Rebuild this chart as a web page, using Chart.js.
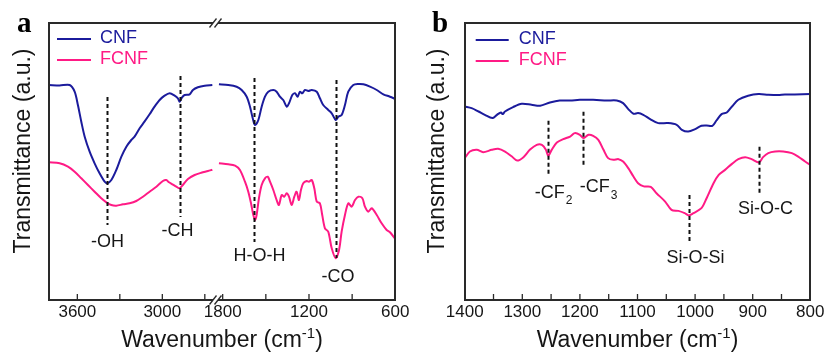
<!DOCTYPE html>
<html>
<head>
<meta charset="utf-8">
<title>FTIR spectra of CNF and FCNF</title>
<script src="https://cdn.jsdelivr.net/npm/chart.js@4.4.1/dist/chart.umd.min.js"></script>
<style>
  html, body { margin: 0; padding: 0; background: #ffffff; }
  #wrap { position: relative; width: 828px; height: 355px; overflow: hidden; }
  canvas { position: absolute; top: 0; }
</style>
</head>
<body>
<div id="wrap">
  <canvas id="aHigh" width="414" height="355" style="left:0px"></canvas>
  <canvas id="aLow" width="216" height="355" style="left:200px"></canvas>
  <canvas id="panelB" width="414" height="355" style="left:414px"></canvas>
</div>
<script>
// ---- Spectra: wavenumber (cm-1) and transmittance (a.u.) ----

// Panel a, 3800-2600 cm-1 window
const A_HIGH_WN_CNF = [3800, 3725, 3654, 3619, 3596, 3572, 3548, 3513, 3478, 3443, 3407, 3388, 3360, 3325, 3289, 3254, 3219, 3196, 3160, 3126, 3090, 3055, 3019, 2984, 2948, 2913, 2890, 2878, 2862, 2843, 2807, 2784, 2749, 2701, 2647];
const A_HIGH_T_CNF = [215, 214.5, 215, 208.3, 195, 178.3, 163.3, 148.3, 136.7, 126.7, 118.3, 116.7, 120, 130, 143.3, 153.3, 160, 163.3, 171.7, 178.3, 185.7, 193.3, 200, 204.3, 206.7, 204.3, 201.7, 198.3, 202.3, 205, 205.7, 210, 212.7, 214.3, 215];
const A_HIGH_WN_FCNF = [3800, 3725, 3666, 3619, 3572, 3525, 3478, 3431, 3395, 3360, 3325, 3278, 3231, 3184, 3137, 3090, 3042, 2996, 2972, 2953, 2929, 2901, 2878, 2855, 2819, 2772, 2725, 2678, 2647];
const A_HIGH_T_FCNF = [137.7, 136.7, 133.3, 128.3, 121.7, 115, 108.3, 101.7, 97.7, 95, 94.3, 95.7, 96.7, 99, 103.3, 108.3, 113.3, 119, 120, 117.7, 115.7, 113.3, 111.7, 115, 121, 125, 127.3, 129, 130.3];

// Panel a, 1800-600 cm-1 window
const A_LOW_WN_CNF = [1826, 1761, 1703, 1668, 1633, 1610, 1591, 1575, 1552, 1529, 1506, 1483, 1448, 1425, 1402, 1379, 1355, 1339, 1316, 1297, 1279, 1263, 1247, 1228, 1205, 1181, 1146, 1124, 1101, 1066, 1042, 1014, 996, 973, 950, 927, 892, 857, 822, 776, 729, 683, 637, 600];
const A_LOW_T_CNF = [215.7, 215, 213.3, 210, 203.3, 193.3, 181.7, 175, 180, 193.3, 203.3, 208.3, 210, 208.3, 203.3, 200, 193.3, 196.7, 205, 206.7, 203.3, 208.3, 206.7, 210, 209, 210, 208.3, 201.7, 195, 190, 186.7, 180, 183.3, 185, 195, 208.3, 215, 216, 215.7, 213.3, 210, 205.7, 203.3, 201];
const A_LOW_WN_FCNF = [1826, 1761, 1714, 1680, 1645, 1622, 1603, 1587, 1575, 1564, 1548, 1529, 1506, 1487, 1471, 1448, 1425, 1409, 1390, 1372, 1355, 1339, 1320, 1302, 1286, 1270, 1256, 1240, 1216, 1200, 1181, 1163, 1146, 1124, 1108, 1089, 1066, 1042, 1014, 991, 973, 950, 927, 903, 880, 857, 829, 811, 788, 764, 729, 695, 660, 637, 600];
const A_LOW_T_FCNF = [136.7, 135.7, 134.3, 130, 118.3, 108.3, 96.7, 85, 80, 85, 101.7, 115, 121.7, 123.3, 118.3, 110, 100, 95, 105, 103.3, 106.7, 103.3, 95, 103.3, 108.3, 100, 110, 116.7, 119, 118.3, 120, 111.7, 98.3, 96.7, 85, 71.7, 68.3, 51.7, 41.7, 50, 68.3, 85, 96.7, 93.3, 100, 103.3, 101.7, 93.3, 88.3, 91.7, 85, 76.7, 70, 67.7, 61];

// Panel b, 1400-800 cm-1
const B_WN_CNF = [1400, 1388, 1376, 1365, 1352, 1344, 1337, 1334, 1330, 1316, 1301, 1284, 1269, 1252, 1235, 1217, 1200, 1177, 1153, 1136, 1125, 1116, 1107, 1099, 1090, 1078, 1064, 1047, 1032, 1023, 1012, 1000, 989, 980, 970, 963, 954, 945, 936, 925, 908, 890, 873, 856, 844, 827, 800];
const B_T_CNF = [193.3, 191.7, 188.3, 185, 181.7, 185, 187.3, 185.7, 188.3, 192.7, 196, 195, 194, 197.3, 199.3, 199.3, 200, 200, 199.3, 199.3, 196.7, 190.7, 186, 186.7, 185, 180.7, 176.7, 176.7, 175, 170, 168.3, 170.7, 174, 174.3, 174, 179.3, 185.7, 187.3, 193.3, 200, 204, 205.7, 205, 204.7, 205.3, 205.3, 205.7];
const B_WN_FCNF = [1400, 1391, 1379, 1368, 1353, 1342, 1330, 1318, 1309, 1298, 1287, 1275, 1266, 1259, 1255, 1249, 1240, 1229, 1217, 1209, 1200, 1194, 1185, 1177, 1168, 1159, 1151, 1142, 1133, 1125, 1116, 1107, 1099, 1089, 1077, 1067, 1052, 1041, 1029, 1018, 1011, 1003, 989, 980, 968, 959, 948, 936, 925, 913, 902, 889, 882, 873, 861, 847, 832, 821, 809, 800];
const B_T_FCNF = [141.7, 148.3, 150, 147.7, 150, 151, 148.3, 143.3, 139.3, 142.7, 150, 155, 155, 150, 144, 150, 157.3, 160.7, 163.3, 166.7, 165, 161.7, 165, 164, 160, 150, 141.7, 140, 140.7, 138.3, 131.7, 123.3, 116.7, 113.5, 113, 106.7, 98.3, 90, 89, 86.7, 84.5, 86.7, 91.7, 101.7, 116.7, 125, 130, 136, 140.7, 142.7, 140.7, 137.3, 142.7, 146.7, 148.3, 148.3, 146.7, 143.3, 138.3, 135];

// Axis ticks (all drawn as tick marks; only the label lists get numbers)
const A_HIGH_TICKS = [3600, 3300, 3000, 2700];
const A_HIGH_TICK_LABELS = [3600, 3000];
const A_LOW_TICKS = [1800, 1500, 1200, 900, 600];
const A_LOW_TICK_LABELS = [1800, 1200, 600];
const B_TICKS = [1400, 1350, 1300, 1250, 1200, 1150, 1100, 1050, 1000, 950, 900, 850, 800];
const B_TICK_LABELS = [1400, 1300, 1200, 1100, 1000, 900, 800];

// Assigned bands (wavenumber and group); "_" starts a subscript
const A_HIGH_BAND_WN = [3393, 2878];
const A_HIGH_BAND_NAMES = ['-OH', '-CH'];
const A_LOW_BAND_WN = [1580, 1012];
const A_LOW_BAND_NAMES = ['H-O-H', '-CO'];
const B_BAND_WN = [1255, 1194, 1011, 889];
const B_BAND_NAMES = ['-CF_2', '-CF_3', 'Si-O-Si', 'Si-O-C'];

const SERIES_NAMES = ['CNF', 'FCNF'];

// ---- Styling / placement of the band markers (in axis units) ----
const A_HIGH_MARK_STYLE = [
  { top: 203, bottom: 75, labelAt: 58, dx: 0 },
  { top: 224, bottom: 83, labelAt: 69, dx: -3 }
];
const A_LOW_MARK_STYLE = [
  { top: 222, bottom: 58, labelAt: 44, dx: 5 },
  { top: 220, bottom: 42, labelAt: 23, dx: 1.5 }
];
const B_MARK_STYLE = [
  { top: 179, bottom: 123, labelAt: 107, dx: 5 },
  { top: 188, bottom: 132, labelAt: 112.5, dx: 15 },
  { top: 105, bottom: 57, labelAt: 42, dx: 6 },
  { top: 153, bottom: 107, labelAt: 91, dx: 6 }
];

const COLORS = ['#1b1b9c', '#ff1a85'];
const FONT = "'Liberation Sans', Arial, sans-serif";
const INK = '#161616';
const FRAME = '#2a2a2a';

function points(wn, t) {
  return wn.map((x, i) => ({ x: x, y: t[i] }));
}

function datasets(cnfWn, cnfT, fcnfWn, fcnfT) {
  return [
    { label: SERIES_NAMES[0], data: points(cnfWn, cnfT) },
    { label: SERIES_NAMES[1], data: points(fcnfWn, fcnfT) }
  ].map((d, i) => Object.assign(d, {
    borderColor: COLORS[i], borderWidth: 2, pointRadius: 0, tension: 0.3, fill: false
  }));
}

// Text with an optional subscript part, centred on x
function drawLabel(ctx, text, x, y) {
  const parts = text.split('_');
  ctx.font = '18px ' + FONT;
  const w0 = ctx.measureText(parts[0]).width;
  let w1 = 0;
  if (parts[1]) { ctx.font = '12px ' + FONT; w1 = ctx.measureText(parts[1]).width + 1; }
  const left = x - (w0 + w1) / 2;
  ctx.textAlign = 'left';
  ctx.textBaseline = 'middle';
  ctx.font = '18px ' + FONT;
  ctx.fillText(parts[0], left, y);
  if (parts[1]) {
    ctx.font = '12px ' + FONT;
    ctx.fillText(parts[1], left + w0 + 1, y + 8);
  }
}

// Band markers over the spectra; frame, inward ticks and axis break on top
const framePlugin = {
  id: 'frame',
  afterDatasetsDraw(chart, args, o) {
    const ctx = chart.ctx;
    const xs = chart.scales.x, ys = chart.scales.y;
    ctx.save();
    (o.bandWn || []).forEach((wn, i) => {
      const st = o.bandStyle[i];
      const x = Math.round(xs.getPixelForValue(wn)) + 0.5;
      ctx.strokeStyle = '#111';
      ctx.lineWidth = 2;
      ctx.setLineDash([4, 3]);
      ctx.beginPath();
      ctx.moveTo(x, ys.getPixelForValue(st.top));
      ctx.lineTo(x, ys.getPixelForValue(st.bottom));
      ctx.stroke();
      ctx.setLineDash([]);
      ctx.fillStyle = INK;
      drawLabel(ctx, o.bandNames[i], x + st.dx, ys.getPixelForValue(st.labelAt));
    });
    ctx.restore();
  },
  afterDraw(chart, args, o) {
    const ctx = chart.ctx, a = chart.chartArea;
    const xs = chart.scales.x;
    const top = Math.round(a.top), bottom = Math.round(a.bottom);
    const left = Math.round(a.left), right = Math.round(a.right);
    ctx.save();
    ctx.setLineDash([]);
    ctx.fillStyle = FRAME;
    // frame edges as filled 2px bars
    ctx.fillRect(left - (o.left ? 1 : 0), top - 1, right - left + (o.left ? 1 : 0) + (o.right ? 1 : 0), 2);
    ctx.fillRect(left - (o.left ? 1 : 0), bottom - 1, right - left + (o.left ? 1 : 0) + (o.right ? 1 : 0), 2);
    if (o.left) ctx.fillRect(left - 1, top - 1, 2, bottom - top + 2);
    if (o.right) ctx.fillRect(right - 1, top - 1, 2, bottom - top + 2);

    // inward ticks on the wavenumber axis
    ctx.strokeStyle = FRAME;
    ctx.lineWidth = 1.3;
    ctx.beginPath();
    xs.ticks.forEach(t => {
      const x = xs.getPixelForValue(t.value);
      ctx.moveTo(x, bottom);
      ctx.lineTo(x, bottom - 6);
    });
    ctx.stroke();

    // axis break "//" on the top and bottom edges
    if (o.breakAt) {
      const cx = a.left - 2;
      [top, bottom].forEach(y => {
        ctx.fillStyle = '#ffffff';
        ctx.fillRect(cx - 2.5, y - 1.5, 5, 3);
        ctx.strokeStyle = FRAME;
        ctx.lineWidth = 1.3;
        [-2.5, 2.5].forEach(d => {
          ctx.beginPath();
          ctx.moveTo(cx + d - 3.5, y + 4.5);
          ctx.lineTo(cx + d + 3.5, y - 4.5);
          ctx.stroke();
        });
      });
    }
    ctx.restore();
  }
};

// Panel letter, legend and axis titles
const decorPlugin = {
  id: 'decor',
  afterDraw(chart, args, o) {
    if (!o.show) return;
    const ctx = chart.ctx, a = chart.chartArea;
    ctx.save();

    // panel letter
    ctx.fillStyle = '#000';
    ctx.font = 'bold 29px "Liberation Serif", "Times New Roman", serif';
    ctx.textAlign = 'left';
    ctx.textBaseline = 'alphabetic';
    ctx.fillText(o.letter, o.letterX, 32);

    // legend
    chart.data.datasets.forEach((ds, i) => {
      const y = o.legendRows[i];
      ctx.strokeStyle = ds.borderColor;
      ctx.lineWidth = 2;
      ctx.beginPath();
      ctx.moveTo(a.left + o.legendLine[0], y);
      ctx.lineTo(a.left + o.legendLine[1], y);
      ctx.stroke();
      ctx.fillStyle = ds.borderColor;
      ctx.font = '18px ' + FONT;
      ctx.textBaseline = 'middle';
      ctx.fillText(ds.label, a.left + o.legendText, y - 1);
    });

    // y title
    ctx.fillStyle = INK;
    ctx.save();
    ctx.translate(o.yTitleX, 151);
    ctx.rotate(-Math.PI / 2);
    ctx.font = '23px ' + FONT;
    ctx.textAlign = 'center';
    ctx.textBaseline = 'middle';
    ctx.fillText('Transmittance (a.u.)', 0, 0);
    ctx.restore();

    // x title with superscript
    const cx = o.xTitleCenter !== undefined ? o.xTitleCenter : (a.left + a.right) / 2;
    const baseY = 347;
    const p1 = 'Wavenumber (cm', sup = '-1', p2 = ')';
    ctx.font = '23px ' + FONT;
    const w1 = ctx.measureText(p1).width, w3 = ctx.measureText(p2).width;
    ctx.font = '15px ' + FONT;
    const w2 = ctx.measureText(sup).width;
    let x = cx - (w1 + w2 + w3) / 2;
    ctx.textAlign = 'left';
    ctx.textBaseline = 'alphabetic';
    ctx.font = '23px ' + FONT;
    ctx.fillText(p1, x, baseY); x += w1;
    ctx.font = '15px ' + FONT;
    ctx.fillText(sup, x, baseY - 9); x += w2;
    ctx.font = '23px ' + FONT;
    ctx.fillText(p2, x, baseY);
    ctx.restore();
  }
};

function makeChart(id, cfg) {
  return new Chart(document.getElementById(id), {
    type: 'line',
    data: { datasets: cfg.datasets },
    plugins: [framePlugin, decorPlugin],
    options: {
      responsive: false,
      animation: false,
      events: [],
      layout: { padding: { left: cfg.pad[0], right: cfg.pad[1], top: cfg.pad[2], bottom: 0 } },
      plugins: {
        legend: { display: false },
        tooltip: { enabled: false },
        frame: cfg.frame,
        decor: cfg.decor || { show: false }
      },
      scales: {
        x: {
          type: 'linear',
          reverse: true,
          min: cfg.range[0],
          max: cfg.range[1],
          afterBuildTicks: s => { s.ticks = cfg.ticks.map(v => ({ value: v })); },
          afterFit: s => { s.height = 55; },
          grid: { display: false, drawTicks: false },
          border: { display: false },
          ticks: {
            autoSkip: false,
            maxRotation: 0,
            padding: 2,
            color: INK,
            font: { family: FONT, size: 17 },
            callback: v => (cfg.labels.includes(v) ? String(v) : '')
          }
        },
        y: { display: false, min: 0, max: 277 }
      }
    }
  });
}

makeChart('aHigh', {
  datasets: datasets(A_HIGH_WN_CNF, A_HIGH_T_CNF, A_HIGH_WN_FCNF, A_HIGH_T_FCNF),
  range: [2614, 3800],
  ticks: A_HIGH_TICKS,
  labels: A_HIGH_TICK_LABELS,
  pad: [49, 197, 23],
  frame: { left: true, right: false, bandWn: A_HIGH_BAND_WN, bandNames: A_HIGH_BAND_NAMES, bandStyle: A_HIGH_MARK_STYLE },
  decor: { show: true, letter: 'a', letterX: 17, legendRows: [39, 60], legendLine: [8, 42], legendText: 51, yTitleX: 24, xTitleCenter: 222 }
});

makeChart('aLow', {
  datasets: datasets(A_LOW_WN_CNF, A_LOW_T_CNF, A_LOW_WN_FCNF, A_LOW_T_FCNF),
  range: [600, 1836],
  ticks: A_LOW_TICKS,
  labels: A_LOW_TICK_LABELS,
  pad: [17.5, 20.7, 23],
  frame: { left: false, right: true, breakAt: true, bandWn: A_LOW_BAND_WN, bandNames: A_LOW_BAND_NAMES, bandStyle: A_LOW_MARK_STYLE }
});

makeChart('panelB', {
  datasets: datasets(B_WN_CNF, B_T_CNF, B_WN_FCNF, B_T_FCNF),
  range: [800, 1400],
  ticks: B_TICKS,
  labels: B_TICK_LABELS,
  pad: [50.7, 17.7, 22.7],
  frame: { left: true, right: true, bandWn: B_BAND_WN, bandNames: B_BAND_NAMES, bandStyle: B_MARK_STYLE },
  decor: { show: true, letter: 'b', letterX: 18, legendRows: [40, 61], legendLine: [11, 44], legendText: 54, yTitleX: 23.5 }
});
</script>
</body>
</html>
